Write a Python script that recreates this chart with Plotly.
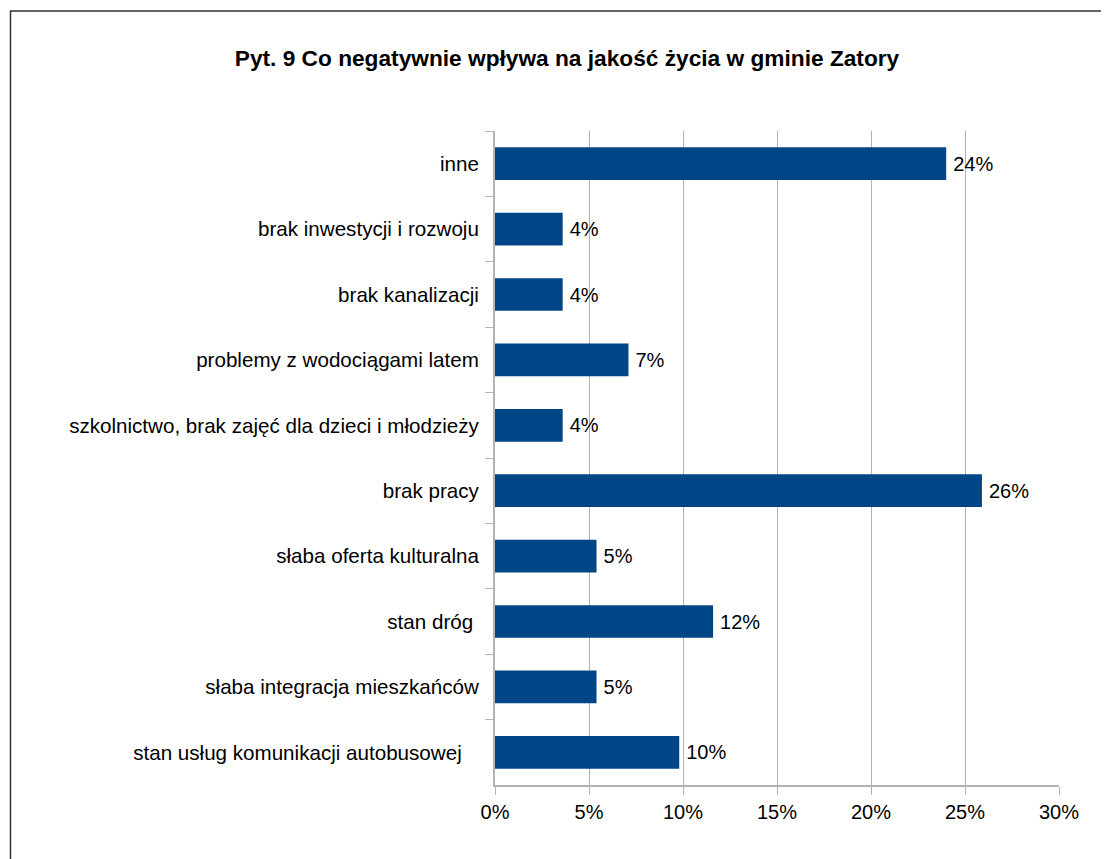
import plotly.graph_objects as go

categories = [
    "inne",
    "brak inwestycji i rozwoju",
    "brak kanalizacji",
    "problemy z wodociągami latem",
    "szkolnictwo, brak zajęć dla dzieci i młodzieży",
    "brak pracy",
    "słaba oferta kulturalna",
    "stan dróg ",
    "słaba integracja mieszkańców",
    "stan usług komunikacji autobusowej   ",
]
values = [24.0, 3.6, 3.6, 7.1, 3.6, 25.9, 5.4, 11.6, 5.4, 9.8]
labels = ["24%", "4%", "4%", "7%", "4%", "26%", "5%", "12%", "5%", "10%"]
x_ticks = [0, 5, 10, 15, 20, 25, 30]
x_tick_text = ["0%", "5%", "10%", "15%", "20%", "25%", "30%"]
title = "Pyt. 9 Co negatywnie wpływa na jakość życia w gminie Zatory"

font = "Liberation Sans, Arial, sans-serif"

# page body has an 8px margin, so figure coordinates are screen coordinates minus 8
OFF = 8
W, H = 1109 - OFF, 859 - OFF
l, t = 495 - OFF, 131 - OFF
r = W - (1059 - OFF)
b = H - (785 - OFF)
pw, ph = W - l - r, H - t - b

fig = go.Figure(go.Bar(
    x=values, y=categories, orientation="h",
    marker=dict(color="#004586", line=dict(width=0)),
    text=labels, texttemplate="\u2009%{text}", textposition="outside", cliponaxis=False,
    textfont=dict(family=font, size=20, color="#000000"),
    width=0.5,
))

fig.update_layout(
    width=W, height=H,
    margin=dict(l=l, r=r, t=t, b=b, pad=0),
    paper_bgcolor="white", plot_bgcolor="white",
    showlegend=False,
    title=dict(text="<b>" + title + "</b>", x=(567 - OFF) / W, xanchor="center",
               y=1 - (58 - OFF) / H, yanchor="middle",
               font=dict(family=font, size=22.7, color="#000000")),
    xaxis=dict(range=[0, 30], tickvals=x_ticks, ticktext=x_tick_text,
               showgrid=True, gridcolor="#b3b3b3", gridwidth=1,
               showline=True, linecolor="#b3b3b3", linewidth=2,
               ticks="outside", ticklen=8, tickcolor="#b3b3b3",
               tickfont=dict(family=font, size=20, color="#000000"),
               zeroline=False, fixedrange=True),
    yaxis=dict(autorange="reversed", type="category",
               showline=True, linecolor="#b3b3b3", linewidth=2,
               ticks="outside", ticklen=8, tickcolor="#b3b3b3", tickson="boundaries",
               ticklabelstandoff=10,
               tickfont=dict(family=font, size=20.6, color="#000000"),
               showgrid=False, fixedrange=True),
    shapes=[dict(type="rect", xref="paper", yref="paper",
                 x0=(10.5 - OFF - l) / pw, x1=(W + 20 - l) / pw,
                 y0=-(b + 20) / ph, y1=(H - b - (11 - OFF)) / ph,
                 line=dict(color="#333333", width=1.5), fillcolor="rgba(0,0,0,0)", layer="below")],
)

fig.write_html("out.html")
